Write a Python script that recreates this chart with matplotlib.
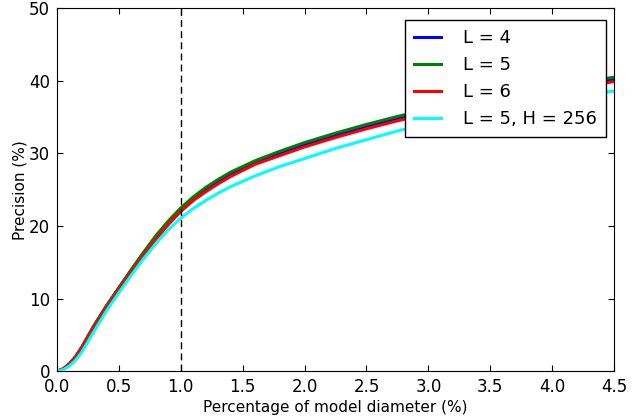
import matplotlib
matplotlib.use("Agg")
import matplotlib.pyplot as plt

# percentage of model diameter
x = [0, 0.05, 0.1, 0.15, 0.2, 0.3, 0.4, 0.5, 0.6, 0.7, 0.8, 0.9, 1.0,
     1.1, 1.2, 1.3, 1.4, 1.6, 1.8, 2.0, 2.25, 2.5, 2.75, 3.0, 3.25, 3.5, 3.75,
     4.0, 4.25, 4.5]

prec_l4 = [0, 0.3, 1.0, 2.0, 3.3, 6.3, 9.0, 11.5, 13.9, 16.3, 18.5, 20.5, 22.3,
           23.8, 25.0, 26.1, 27.1, 28.7, 30.0, 31.2, 32.5, 33.7, 34.8, 35.8, 36.7, 37.6,
           38.3, 39.0, 39.6, 40.2]
prec_l5 = [0, 0.3, 1.0, 2.0, 3.3, 6.3, 9.0, 11.5, 14.0, 16.4, 18.7, 20.7, 22.5,
           24.0, 25.3, 26.4, 27.4, 29.0, 30.3, 31.5, 32.8, 34.0, 35.1, 36.1, 37.0, 37.9,
           38.6, 39.3, 39.9, 40.5]
prec_l6 = [0, 0.3, 1.0, 1.9, 3.2, 6.1, 8.8, 11.3, 13.7, 16.0, 18.2, 20.2, 22.0,
           23.5, 24.7, 25.8, 26.8, 28.5, 29.7, 30.9, 32.2, 33.4, 34.5, 35.5, 36.4, 37.3,
           38.0, 38.7, 39.3, 39.9]
prec_l5_h256 = [0, 0.2, 0.7, 1.5, 2.6, 5.5, 8.3, 10.8, 13.2, 15.5, 17.6, 19.5, 21.1,
                22.4, 23.5, 24.5, 25.4, 26.9, 28.2, 29.3, 30.7, 31.9, 33.1, 34.1, 35.0, 35.9,
                36.7, 37.4, 38.0, 38.6]

labels = ["L = 4", "L = 5", "L = 6", "L = 5, H = 256"]
colors = ["blue", "green", "red", "cyan"]

fig = plt.figure(figsize=(6.37, 4.17), dpi=100)
ax = fig.add_axes([0.0895, 0.110, 0.8745, 0.870])

for y, lab, c in zip([prec_l4, prec_l5, prec_l6, prec_l5_h256], labels, colors):
    ax.plot(x, y, color=c, lw=2.2, label=lab)

ax.axvline(1.0, color="black", ls=(0, (5, 3)), lw=1)

ax.set_xlim(0, 4.5)
ax.set_ylim(0, 50)
ax.set_xticks([0, 0.5, 1.0, 1.5, 2.0, 2.5, 3.0, 3.5, 4.0, 4.5])
ax.set_yticks([0, 10, 20, 30, 40, 50])
ax.tick_params(direction="in", top=True, right=True, labelsize=12, length=4, pad=5)
ax.set_xlabel("Percentage of model diameter (%)", fontsize=11, labelpad=3)
ax.set_ylabel("Precision (%)", fontsize=11, labelpad=1)

leg = ax.legend(loc="upper right", bbox_to_anchor=(0.9856, 0.968), borderaxespad=0,
                fontsize=13, fancybox=False, framealpha=1, edgecolor="black",
                handlelength=1.5, handletextpad=1.2, borderpad=0.5)
leg.get_frame().set_linewidth(1)

fig.savefig("out.png", dpi=100)
